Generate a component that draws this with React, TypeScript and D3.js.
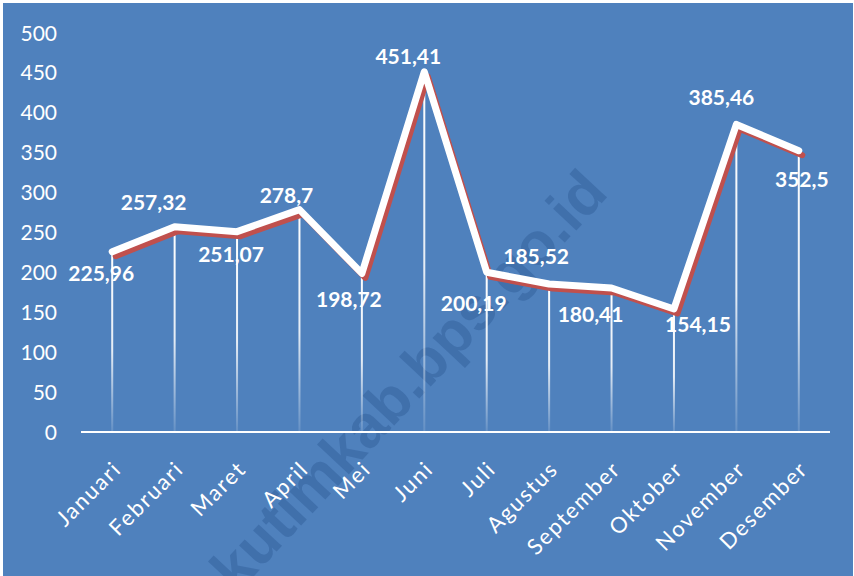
import * as d3 from "d3";

const months = [
  "Januari", "Februari", "Maret", "April", "Mei", "Juni",
  "Juli", "Agustus", "September", "Oktober", "November", "Desember",
];
const values = [225.96, 257.32, 251.07, 278.7, 198.72, 451.41, 200.19, 185.52, 180.41, 154.15, 385.46, 352.5];
const valueLabels = ["225,96", "257,32", "251,07", "278,7", "198,72", "451,41", "200,19", "185,52", "180,41", "154,15", "385,46", "352,5"];
const yTicks = [0, 50, 100, 150, 200, 250, 300, 350, 400, 450, 500];

// where each data label sits relative to its point (as in the source)
const labelDx = [-11, -21, -6, -13, -13, -16, -13, -13, -21, 24, -15, 3];
const labelDy = [22, -24, 23, -14, 26, -15, 31, -28, 26, 15, -27, 29];

const width = 854;
const height = 576;
const bg = "#4f81bd";
const font = "Lato, 'Open Sans', sans-serif";

export default function App() {
  const x = d3.scaleBand<string>().domain(months).range([81, 830]);
  const y = d3.scaleLinear().domain([0, 500]).range([432, 33]);
  const cx = (m: string) => (x(m) ?? 0) + x.bandwidth() / 2;

  const line = d3
    .line<number>()
    .x((_, i) => cx(months[i]))
    .y((d) => y(d));

  return (
    <svg
      width={width}
      height={height}
      style={{ position: "absolute", left: 0, top: 0 }}
    >
      <defs>
        {values.map((v, i) => (
          <linearGradient
            key={i}
            id={`drop${i}`}
            gradientUnits="userSpaceOnUse"
            x1={0}
            x2={0}
            y1={y(v)}
            y2={y(0)}
          >
            <stop offset="0" stopColor="#fff" stopOpacity={1} />
            <stop offset="0.55" stopColor="#fff" stopOpacity={0.85} />
            <stop offset="1" stopColor="#fff" stopOpacity={0.12} />
          </linearGradient>
        ))}
      </defs>
      <rect width={width} height={height} fill="#fff" />
      <rect x={3} y={3} width={width - 4} height={height - 3} fill={bg} />

      {/* watermark */}
      <text
        transform="translate(408,380) rotate(-47)"
        textAnchor="middle"
        dy="0.35em"
        fontFamily="'Liberation Sans', Arial, sans-serif"
        fontWeight="bold"
        fontSize={60}
        fill="#24508a"
        fillOpacity={0.34}
      >
        kutimkab.bps.go.id
      </text>

      {/* y axis labels */}
      {yTicks.map((t) => (
        <text
          key={t}
          x={57}
          y={y(t)}
          dy="0.36em"
          textAnchor="end"
          fontFamily={font}
          fontSize={21}
          fill="#fff"
        >
          {t}
        </text>
      ))}

      {/* drop lines */}
      {values.map((v, i) => (
        <rect
          key={i}
          x={cx(months[i]) - 1}
          y={y(v)}
          width={2}
          height={y(0) - y(v)}
          fill={`url(#drop${i})`}
        />
      ))}

      {/* x axis */}
      <line x1={81} x2={830} y1={y(0)} y2={y(0)} stroke="#fff" strokeWidth={2} />
      {months.map((m) => (
        <text
          key={m}
          transform={`translate(${cx(m) + 5},${y(0) + 33}) rotate(-45)`}
          textAnchor="end"
          dy="0.35em"
          fontFamily={font}
          fontSize={22}
          letterSpacing={1.8}
          fill="#fff"
        >
          {m}
        </text>
      ))}

      {/* shadow series + main line */}
      <path
        d={line(values) ?? ""}
        transform="translate(3.5,4.5)"
        fill="none"
        stroke="#c0504d"
        strokeWidth={6}
        strokeLinejoin="round"
        strokeLinecap="round"
      />
      <path
        d={line(values) ?? ""}
        fill="none"
        stroke="#fff"
        strokeWidth={7}
        strokeLinejoin="round"
        strokeLinecap="round"
      />

      {/* data labels */}
      {values.map((v, i) => (
        <text
          key={i}
          x={cx(months[i]) + labelDx[i]}
          y={y(v) + labelDy[i]}
          dy="0.36em"
          textAnchor="middle"
          fontFamily={font}
          fontWeight="bold"
          fontSize={21}
          fill="#fff"
        >
          {valueLabels[i]}
        </text>
      ))}
    </svg>
  );
}
